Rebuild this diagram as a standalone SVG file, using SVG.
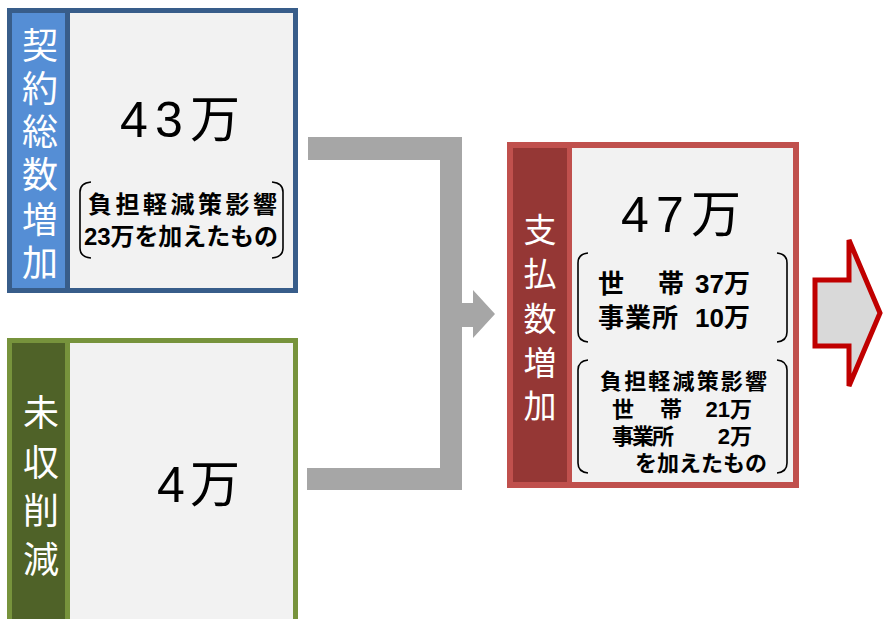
<svg xmlns="http://www.w3.org/2000/svg" width="883" height="619" viewBox="0 0 883 619">
<style>
.fill{fill:#F2F2F2}
.lbl{fill:#FFFFFF;font-family:"Noto Sans CJK JP","Noto Sans",sans-serif;text-anchor:middle}
.big{fill:#000;font-family:"Liberation Sans","Noto Sans CJK JP",sans-serif;font-size:50px}
.sm{fill:#000;font-family:"Liberation Sans","Noto Sans CJK JP",sans-serif;font-weight:bold}
.br{fill:none;stroke:#000;stroke-width:1.6}
.conn{fill:#A6A6A6}
</style>
<rect width="883" height="619" fill="#FFFFFF"/>

<g id="node-keiyaku">
  <rect x="9.5" y="10.5" width="286" height="280" class="fill" stroke="#385D8A" stroke-width="5"/>
  <rect x="12" y="13" width="53" height="275" fill="#558ED5"/>
  <rect x="65" y="13" width="5" height="275" fill="#385D8A"/>
  <text class="lbl" font-size="36" x="40 40 40 40 40 40" y="59 102 145 188 233 276">契約総数増加</text>
  <text class="big" x="120" y="137" textLength="120" lengthAdjust="spacing">43万</text>
  <path class="br" d="M91,182 Q80,183 80,192 L80,248 Q80,257 91,258"/>
  <path class="br" d="M272,182 Q283,183 283,192 L283,248 Q283,257 272,258"/>
  <text class="sm" font-size="24" x="88" y="213" textLength="189" lengthAdjust="spacing">負担軽減策影響</text>
  <text class="sm" font-size="24" x="84" y="245" textLength="194" lengthAdjust="spacing">23万を加えたもの</text>
</g>

<g id="node-mishu">
  <rect x="9.5" y="340.5" width="286" height="300" class="fill" stroke="#77933C" stroke-width="5"/>
  <rect x="12" y="343" width="53" height="290" fill="#4F6228"/>
  <rect x="65" y="343" width="5" height="290" fill="#77933C"/>
  <text class="lbl" font-size="36" x="41 41 41 41" y="426 476 524 573">未収削減</text>
  <text class="big" x="157" y="502" textLength="83" lengthAdjust="spacing">4万</text>
</g>

<g id="connectors">
  <rect class="conn" x="308" y="137" width="154" height="23"/>
  <rect class="conn" x="440" y="137" width="22" height="353"/>
  <rect class="conn" x="307" y="468" width="155" height="22"/>
  <polygon class="conn" points="461,303 473,303 473,290 495,314 473,338 473,327 461,327"/>
</g>

<g id="node-shiharai">
  <rect x="510" y="145" width="286" height="340" class="fill" stroke="#C0504D" stroke-width="6"/>
  <rect x="513" y="148" width="54" height="334" fill="#953735"/>
  <rect x="567" y="148" width="5" height="334" fill="#C0504D"/>
  <text class="lbl" font-size="33" x="540 540 540 540 540" y="242 286 331 375 418">支払数増加</text>
  <text class="big" x="621" y="232" textLength="120" lengthAdjust="spacing">47万</text>
  <path class="br" d="M588,253 Q578,254 578,263 L578,332 Q578,341 588,342"/>
  <path class="br" d="M777,253 Q787,254 787,263 L787,332 Q787,341 777,342"/>
  <text class="sm" font-size="26" x="598" y="293">世</text>
  <text class="sm" font-size="26" x="658" y="293">帯</text>
  <text class="sm" font-size="26" x="750" y="293" text-anchor="end">37万</text>
  <text class="sm" font-size="26" x="598" y="327" textLength="80" lengthAdjust="spacing">事業所</text>
  <text class="sm" font-size="26" x="750" y="327" text-anchor="end">10万</text>
  <path class="br" d="M588,360 Q578,361 578,370 L578,463 Q578,472 588,473"/>
  <path class="br" d="M777,360 Q787,361 787,370 L787,463 Q787,472 777,473"/>
  <text class="sm" font-size="22" x="600" y="389" textLength="167" lengthAdjust="spacing">負担軽減策影響</text>
  <text class="sm" font-size="22" x="612" y="417">世</text>
  <text class="sm" font-size="22" x="660" y="417">帯</text>
  <text class="sm" font-size="22" x="752" y="417" text-anchor="end">21万</text>
  <text class="sm" font-size="22" x="612" y="444" textLength="62" lengthAdjust="spacing">事業所</text>
  <text class="sm" font-size="22" x="752" y="444" text-anchor="end">2万</text>
  <text class="sm" font-size="22" x="635" y="471" textLength="132" lengthAdjust="spacing">を加えたもの</text>
</g>

<g id="node-arrow-out">
  <polygon points="815,280 849,280 849,240 880,313 849,386 849,346 815,346" fill="#D9D9D9" stroke="#C00000" stroke-width="5" stroke-linejoin="miter"/>
</g>
</svg>
